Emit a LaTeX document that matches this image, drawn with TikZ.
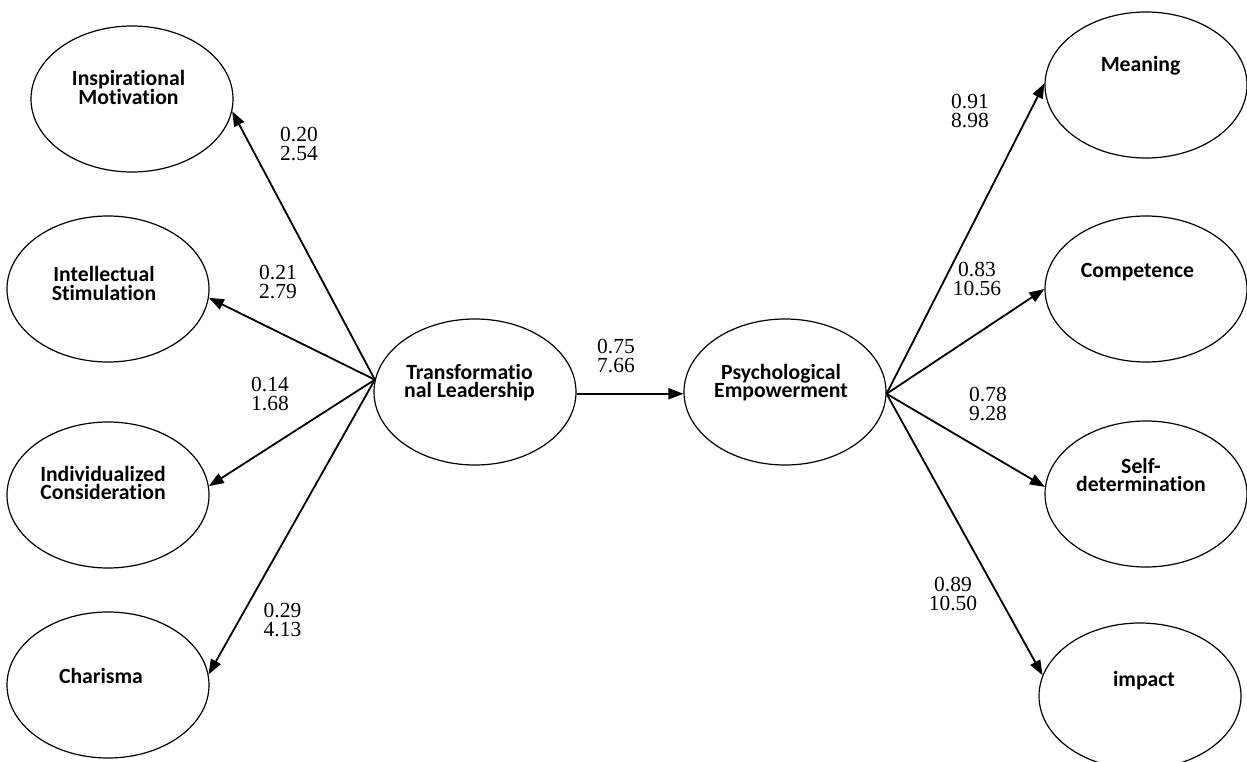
\documentclass[tikz,border=0pt]{standalone}
\usepackage{fontspec}
\setmainfont{Liberation Serif}
\newfontfamily\boxfont[Ligatures=NoCommon]{Carlito}
\usetikzlibrary{shapes.geometric,arrows.meta}

\tikzset{
    latent/.style={draw, ellipse, line width=1.2pt, minimum width=202pt,
        minimum height=146pt, inner sep=0pt},
    varname/.style={font={\boxfont\bfseries\fontsize{21.7}{18.5}\selectfont},
        align=center, inner sep=0pt},
    coef/.style={font={\fontsize{21.5}{19}\selectfont}, align=center, inner sep=0pt},
    load/.style={line width=1.8pt, -{Triangle[length=15pt,width=11pt]}}
}

\begin{document}
\begin{tikzpicture}[x=1pt,y=-1pt]
        \useasboundingbox (0,0) rectangle (1247,762);
        % latent variables
        \node[latent] (im) at (132,99) {};
        \node[latent] (is) at (108,289) {};
        \node[latent] (ic) at (108,495) {};
        \node[latent] (ch) at (108,685) {};
        \node[latent] (tl) at (475,392) {};
        \node[latent] (pe) at (785,392) {};
        \node[latent] (me) at (1146,85) {};
        \node[latent] (co) at (1146,289) {};
        \node[latent] (sd) at (1146,494) {};
        \node[latent] (ip) at (1140,696) {};
        % their names, above the centres
        \node[varname] (imtxt) at (128.5,87.5) {Inspirational\\Motivation};
        \node[varname] (istxt) at (104,283.5) {Intellectual\\Stimulation};
        \node[varname] (ictxt) at (103,483) {Individualized\\Consideration};
        \node[varname,anchor=base] (chtxt) at (101,683) {Charisma};
        \node[varname] (tltxt) at (469.5,382.7) {Transformatio\\nal Leadership};
        \node[varname] (petxt) at (781,382.7) {Psychological\\Empowerment};
        \node[varname,anchor=base] (metxt) at (1140.5,72) {Meaning};
        \node[varname,anchor=base] (cotxt) at (1137.5,277) {Competence};
        \node[varname] (sdtxt) at (1141,475) {Self-\\determination};
        \node[varname,anchor=base] (iptxt) at (1144,686) {impact};
        % paths
        \coordinate (tlout) at (tl.173);
        \foreach \tip in {im.-7,is.-5,ic.5,ch.6}
        \draw[load] (tlout) -- (\tip);
        \draw[load] (tl.-1) -- (pe.181);
        \coordinate (peout) at (pe.-1);
        \foreach \tip in {me.179,co.180,sd.176,ip.168}
        \draw[load] (peout) -- (\tip);
        % estimates and t values
        \foreach \n/\x/\y/\est/\tval in {a/299/144/0.20/2.54,b/278/282.5/0.21/2.79,
            c/270/394.5/0.14/1.68,d/282.5/620/0.29/4.13,e/616/356/0.75/7.66,
            f/970/111/0.91/8.98,g/977/279/0.83/10.56,h/988/404/0.78/9.28,
            i/953/594/0.89/10.50}
        \node[coef] (coef\n) at (\x,\y) {\est\\\tval};
    \end{tikzpicture}
\end{document}
